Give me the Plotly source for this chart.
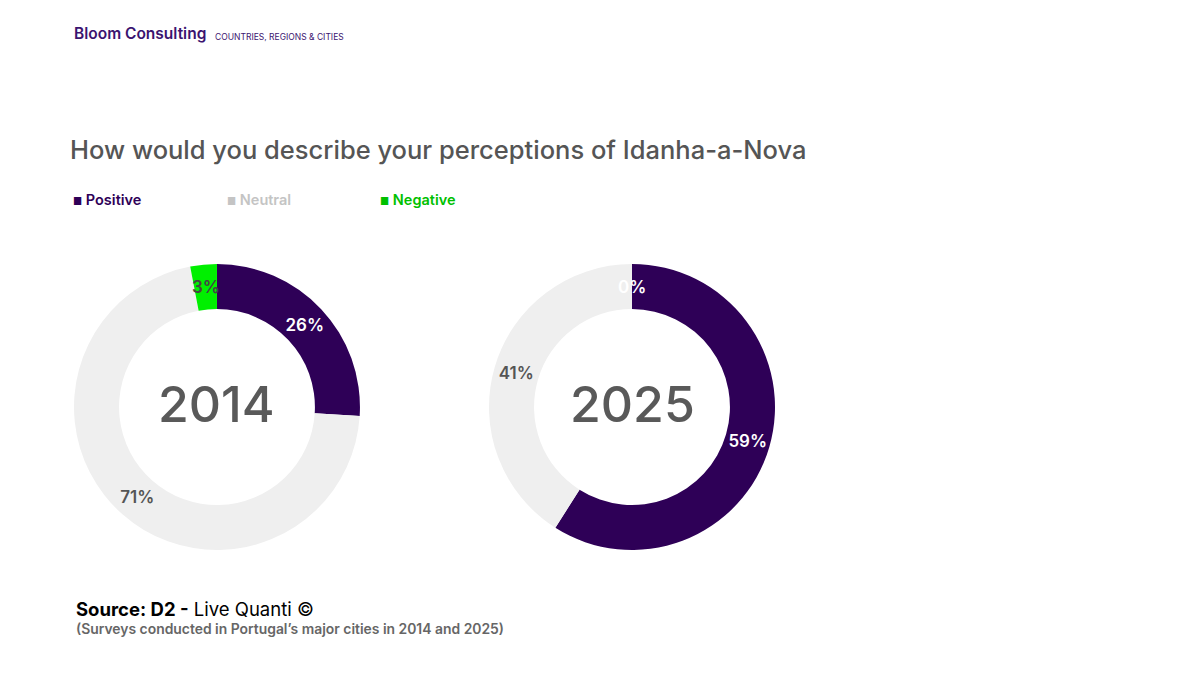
import math
import plotly.graph_objects as go

categories = ["Positive", "Neutral", "Negative"]
years = ["2014", "2025"]
values_2014 = [26, 71, 3]
values_2025 = [59, 41, 0]

colors = ["#2e0057", "#efefef", "#00f000"]
text_colors = {"2014": ["#ffffff", "#555555", "#444444"],
               "2025": ["#ffffff", "#555555", "#ffffff"]}
legend_colors = ["#2e0057", "#c4c4c4", "#00c000"]
FONT = "Inter, Roboto, 'Open Sans', sans-serif"
HOLE = 0.685
SMALL = 5  # slices below this value get their label placed mid-ring

fig = go.Figure()
domains = [[0.055, 0.2933], [0.4008, 0.6392]]
dom_y = [0.197, 0.6207]
annotations = []
for yr, vals, dom in zip(years, [values_2014, values_2025], domains):
    templates = ["%{value}%" if v >= SMALL else "" for v in vals]
    fig.add_trace(go.Pie(
        labels=categories, values=vals, hole=HOLE, sort=False,
        direction="clockwise", rotation=0,
        marker=dict(colors=colors, line=dict(width=0)),
        texttemplate=templates, textinfo="text", textposition="inside",
        insidetextorientation="auto",
        textfont=dict(family=FONT, size=17, color=text_colors[yr], weight=600),
        domain=dict(x=dom, y=dom_y), showlegend=False,
        hoverinfo="label+value",
    ))
    # labels of very small slices: centred in the ring at the slice's mid-angle
    total = sum(vals)
    cx = (dom[0] + dom[1]) / 2
    cy = (dom_y[0] + dom_y[1]) / 2
    r_px = (dom[1] - dom[0]) * 1200 / 2 * (1 + HOLE) / 2
    cum = 0
    for v, tc in zip(vals, text_colors[yr]):
        if v < SMALL:
            ang = 2 * math.pi * (cum + v / 2) / total
            annotations.append(dict(
                x=cx + r_px * math.sin(ang) / 1200, y=cy + r_px * math.cos(ang) / 675,
                xref="paper", yref="paper", xanchor="center", yanchor="middle",
                text=f"{v}%", showarrow=False,
                font=dict(family=FONT, size=17, color=tc, weight=600)))
        cum += v

for yr, dom in zip(years, domains):
    annotations.append(dict(x=(dom[0] + dom[1]) / 2, y=0.414, xref="paper", yref="paper",
                            text=yr, showarrow=False,
                            font=dict(family=FONT, size=50, color="#595959", weight=500),
                            xanchor="center", yanchor="middle"))

# header
annotations.append(dict(x=64 / 1200, y=1 - 26 / 675, xref="paper", yref="paper", xanchor="left", yanchor="middle",
                        text="Bloom Consulting", showarrow=False,
                        font=dict(family=FONT, size=15.5, color="#3b1470", weight=600)))
annotations.append(dict(x=205 / 1200, y=1 - 29 / 675, xref="paper", yref="paper", xanchor="left", yanchor="middle",
                        text="COUNTRIES, REGIONS &amp; CITIES", showarrow=False,
                        font=dict(family=FONT, size=8.5, color="#3b1470")))
# title
annotations.append(dict(x=60 / 1200, y=1 - 141 / 675, xref="paper", yref="paper", xanchor="left", yanchor="middle",
                        text="How would you describe your perceptions of Idanha-a-Nova", showarrow=False,
                        font=dict(family=FONT, size=25.5, color="#555555", weight=500)))
# legend
legend_x = [63, 217, 370]
for cat, lx, lc in zip(categories, legend_x, legend_colors):
    annotations.append(dict(x=lx / 1200, y=1 - 191 / 675, xref="paper", yref="paper", xanchor="left", yanchor="middle",
                            text="<span style='font-size:10px'>\u25a0</span> " + cat, showarrow=False,
                            font=dict(family=FONT, size=14.5, color=lc, weight=600)))
# source
annotations.append(dict(x=66 / 1200, y=1 - 601 / 675, xref="paper", yref="paper", xanchor="left", yanchor="middle",
                        text="<b>Source: D2 -</b> Live Quanti ©", showarrow=False,
                        font=dict(family=FONT, size=18.5, color="#000000")))
annotations.append(dict(x=66 / 1200, y=1 - 621 / 675, xref="paper", yref="paper", xanchor="left", yanchor="middle",
                        text="(Surveys conducted in Portugal’s major cities in 2014 and 2025)", showarrow=False,
                        font=dict(family=FONT, size=13.9, color="#666666", weight=600)))

fig.update_layout(
    width=1200, height=675,
    margin=dict(l=0, r=0, t=0, b=0),
    paper_bgcolor="#ffffff", plot_bgcolor="#ffffff",
    annotations=annotations,
    font=dict(family=FONT),
)
fig.write_html("out.html")
